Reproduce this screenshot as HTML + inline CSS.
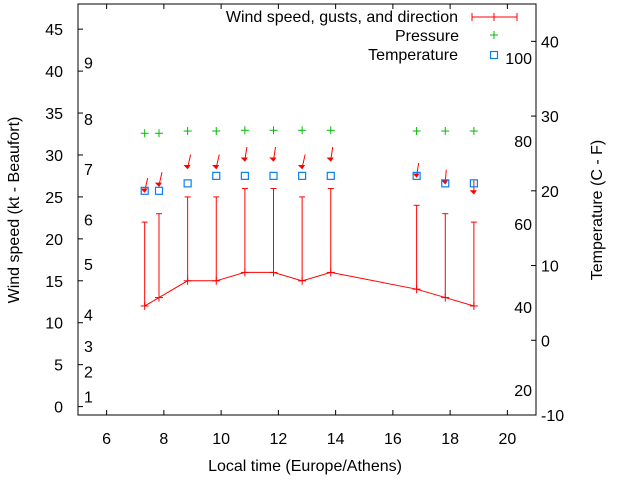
<!DOCTYPE html>
<html><head><meta charset="utf-8"><style>
html,body{margin:0;padding:0;background:#fff}
svg{display:block;font-family:"Liberation Sans",sans-serif}
</style></head><body>
<svg id="c" width="640" height="480" viewBox="0 0 640 480" xmlns="http://www.w3.org/2000/svg"></svg>
<script>
const times=[7.33,7.83,8.83,9.83,10.83,11.83,12.83,13.83,16.83,17.83,18.83];
const windSpeed=[12,13,15,15,16,16,15,16,14,13,12];
const gusts=[22,23,25,25,26,26,25,26,24,23,22];
const arrowLevel=[25.7,26.4,28.5,28.5,29.4,29.4,28.5,29.4,27.5,26.7,25.5];
const arrowDx=[3,3,3,3,2,2,3,2,2,1,0];
const pressure=[27.7,27.7,28.0,28.0,28.1,28.1,28.1,28.1,28.0,28.0,28.0];
const temperature=[20,20,21,22,22,22,22,22,22,21,21];
const xTicks=[6,8,10,12,14,16,18,20];
const yTicks=[0,5,10,15,20,25,30,35,40,45];
const y2Ticks=[-10,0,10,20,30,40];
const fTicks=[20,40,60,80,100];
const beaufortLabels=[1,2,3,4,5,6,7,8,9];
const beaufortPos=[1.2,4.2,7.2,11.0,17.0,22.3,28.3,34.3,41.0];

const L=78,R=536,T=4,B=415;
const sx=v=>L+(v-5)*(R-L)/16;
const sy=v=>B-(v+1)*(B-T)/49;
const sy2=v=>B-(v+10)*(B-T)/55;
const svg=document.getElementById('c');
const NS='http://www.w3.org/2000/svg';
function mk(tag,attrs,name,txt){const e=document.createElementNS(NS,tag);for(const k in attrs)e.setAttribute(k,attrs[k]);


if(txt!==undefined)e.textContent=txt;svg.appendChild(e);return e;}
function ln(x1,y1,x2,y2,c,n){return mk('line',{x1,y1,x2,y2,stroke:c,'stroke-width':1},n);}
const FS=16;
mk('rect',{x:L,y:T,width:R-L,height:B-T,fill:'none',stroke:'#000','stroke-width':1},'plot-frame');
xTicks.forEach(t=>{const x=sx(t);ln(x,B,x,B-5,'#000','x-tick');ln(x,T,x,T+5,'#000','x-tick-top');
mk('text',{x:x,y:444,'font-size':FS,'text-anchor':'middle'},'x-tick-label',t);});
yTicks.forEach(t=>{const y=sy(t);ln(L,y,L+5,y,'#000','y-tick');
mk('text',{x:63,y:y+6,'font-size':FS,'text-anchor':'end'},'y-tick-label',t);});
y2Ticks.forEach(t=>{const y=sy2(t);ln(R,y,R-5,y,'#000','y2-tick');
mk('text',{x:541,y:y+6,'font-size':FS},'y2-tick-label',t);});
fTicks.forEach(f=>{const c=(f-32)*5/9;mk('text',{x:532,y:sy2(c)+6,'font-size':FS,'text-anchor':'end'},'fahrenheit-label',f);});
beaufortLabels.forEach((b,i)=>{mk('text',{x:84,y:sy(beaufortPos[i])+6,'font-size':FS},'beaufort-label',b);});

mk('text',{x:305,y:471,'font-size':FS,'text-anchor':'middle'},'x-axis-title','Local time (Europe/Athens)');
mk('text',{x:0,y:0,'font-size':FS,'text-anchor':'middle',transform:'translate(19,210) rotate(-90)'},'y-axis-title','Wind speed (kt - Beaufort)');
mk('text',{x:0,y:0,'font-size':FS,'text-anchor':'middle',transform:'translate(602,210) rotate(-90)'},'y2-axis-title','Temperature (C - F)');

let d='';times.forEach((t,i)=>{d+=(i?'L':'M')+sx(t)+' '+sy(windSpeed[i]);});
mk('path',{d,fill:'none',stroke:'#f00','stroke-width':1},'wind-speed-line');
times.forEach((t,i)=>{const x=sx(t);ln(x,sy(windSpeed[i]),x,sy(gusts[i]),'#f00','gust-bar');
ln(x-3,sy(gusts[i]),x+3,sy(gusts[i]),'#f00','gust-cap');
ln(x,sy(windSpeed[i])-4,x,sy(windSpeed[i])+4,'#f00','speed-tick');
ln(x-4,sy(windSpeed[i]),x+4,sy(windSpeed[i]),'#f00','speed-cap');});
times.forEach((t,i)=>{const x=sx(t),y=sy(arrowLevel[i]),dx=arrowDx[i];
ln(x+dx,y-13,x,y,'#f00','direction-arrow');
mk('path',{d:`M${x-3} ${y-2}L${x} ${y+1}L${x+2} ${y-2}Z`,fill:'#f00',stroke:'#f00','stroke-width':1},'arrow-head');});
times.forEach((t,i)=>{const x=sx(t),y=sy2(pressure[i]);ln(x-4,y,x+4,y,'#0b0','pressure-point');ln(x,y-4,x,y+4,'#0b0','pressure-point-v');});
times.forEach((t,i)=>{mk('rect',{x:sx(t)-3.5,y:sy2(temperature[i])-3.5,width:7,height:7,fill:'none',stroke:'#0a7ff0','stroke-width':1.2},'temperature-point');});

mk('text',{x:458,y:22,'font-size':FS,'text-anchor':'end'},'legend-wind-label','Wind speed, gusts, and direction');
ln(472,17,517,17,'#f00','legend-wind-line');ln(472,13,472,21,'#f00','legend-wind-cap');ln(517,13,517,21,'#f00','legend-wind-cap');ln(494,13,494,21,'#f00','legend-wind-mid');
mk('text',{x:459,y:41,'font-size':FS,'text-anchor':'end'},'legend-pressure-label','Pressure');
ln(490,35,498,35,'#0b0','legend-pressure-mark');ln(494,31,494,39,'#0b0','legend-pressure-mark-v');
mk('text',{x:458,y:60,'font-size':FS,'text-anchor':'end'},'legend-temperature-label','Temperature');
mk('rect',{x:490.5,y:51.5,width:7,height:7,fill:'none',stroke:'#0a7ff0','stroke-width':1.2},'legend-temperature-mark');
</script>
</body></html>
